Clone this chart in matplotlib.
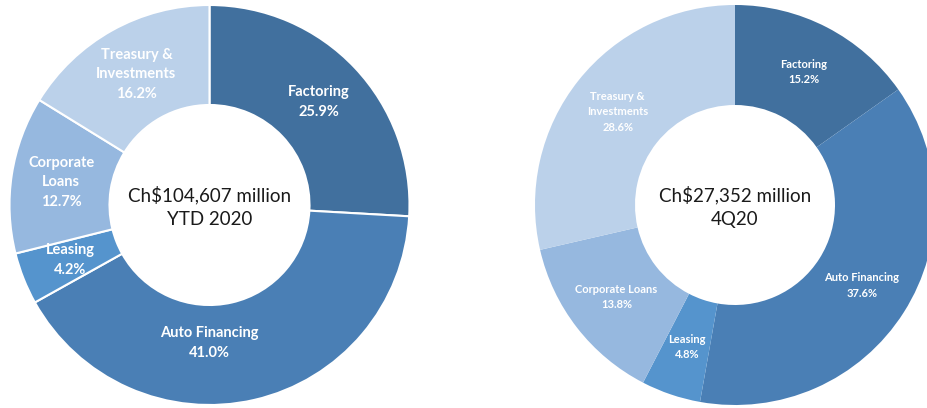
import numpy as np
import matplotlib.pyplot as plt

plt.rcParams['font.family'] = ['Lato', 'DejaVu Sans']

# segment names and shares (%)
segments = ['Factoring', 'Auto Financing', 'Leasing', 'Corporate Loans', 'Treasury & Investments']
ytd_share = [25.9, 41.0, 4.2, 12.7, 16.2]
q4_share = [15.2, 37.6, 4.8, 13.8, 28.6]

# label text per donut (line breaks differ between the two)
ytd_labels = ['Factoring', 'Auto Financing', 'Leasing', 'Corporate\nLoans', 'Treasury &\nInvestments']
q4_labels = ['Factoring', 'Auto Financing', 'Leasing', 'Corporate Loans', 'Treasury &\nInvestments']

ytd_title = 'Ch$104,607 million\nYTD 2020'
q4_title = 'Ch$27,352 million\n4Q20'

colors = ['#41709e', '#4a7fb5', '#5594cd', '#96b8df', '#bbd1ea']


def donut(ax, shares, labels, title, fsize, weight, edge_lw, label_pos=None):
    wedges, _ = ax.pie(shares, colors=colors, startangle=90, counterclock=False,
                       radius=1.0,
                       wedgeprops=dict(width=0.5, edgecolor='white', linewidth=edge_lw))
    for i, w in enumerate(wedges):
        ang = (w.theta1 + w.theta2) / 2
        r = 0.75
        # some labels are moved off the wedge middle
        if label_pos and i in label_pos:
            ang, r = label_pos[i]
        x = r * np.cos(np.radians(ang))
        y = r * np.sin(np.radians(ang))
        ax.text(x, y, labels[i] + '\n' + f'{shares[i]:.1f}%', ha='center', va='center',
                color='white', fontsize=fsize, fontweight=weight, linespacing=1.5)
    ax.text(0, -0.01, title, ha='center', va='center', fontsize=13.5,
            color='#1a1a1a', linespacing=1.45)
    ax.set_xlim(-1, 1)
    ax.set_ylim(-1, 1)
    ax.set_aspect('equal')
    ax.axis('off')


fig = plt.figure(figsize=(9.28, 4.08), dpi=100)
W, H = 928, 408

ax1 = fig.add_axes([(209.5 - 200) / W, 3 / H, 400 / W, 400 / H])
donut(ax1, ytd_share, ytd_labels, ytd_title, 10.5, 'bold', 1.5, label_pos={1: (-90, 0.69)})

ax2 = fig.add_axes([535 / W, 3 / H, 400 / W, 400 / H])
donut(ax2, q4_share, q4_labels, q4_title, 8, 'bold', 0)

plt.savefig('out.png', dpi=100)
